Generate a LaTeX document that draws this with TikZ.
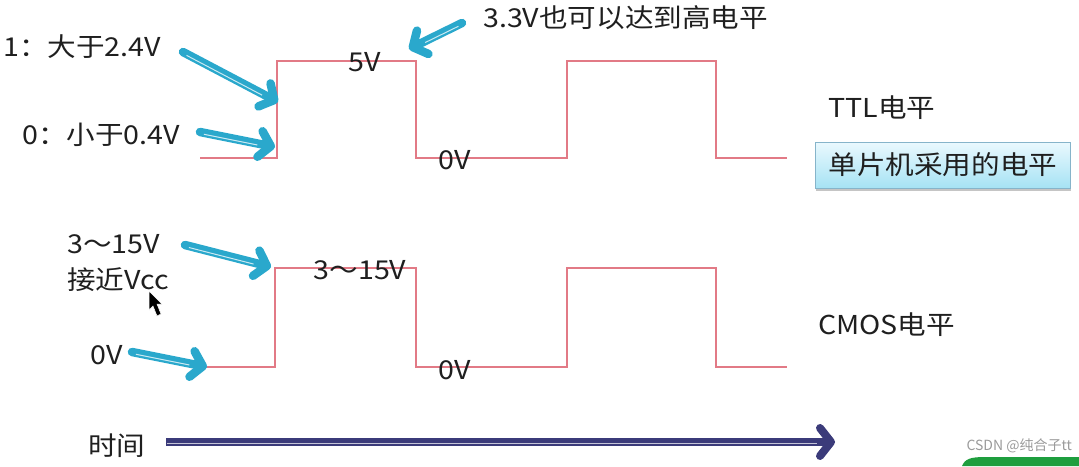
\documentclass[tikz,border=0pt]{standalone}
\usepackage{fontspec}
\setmainfont[FakeStretch=1.1]{Noto Sans CJK SC}
\newfontfamily\wmfont{Noto Sans CJK SC}
\usetikzlibrary{arrows.meta,shadows}
\definecolor{sigred}{HTML}{E27A86}
\definecolor{acyan}{HTML}{2AA8CC}
\definecolor{navy}{HTML}{3B3B7A}
\definecolor{boxtop}{HTML}{EAF9FE}
\definecolor{boxbot}{HTML}{A6E2F4}
\definecolor{boxedge}{HTML}{86B4CA}
\definecolor{wmgray}{HTML}{9A9A9A}
\definecolor{csdngreen}{HTML}{1E9E3E}
\begin{document}
\begin{tikzpicture}[x=1pt,y=-1pt,
  lbl/.style={inner sep=0pt, font=\fontsize{26}{29}\selectfont, text=black!88},
  sigline/.style={draw=sigred, line width=1.3pt, line join=miter},
  bluearrow/.style={line width=8.5pt, draw=acyan, line cap=round,
     -{Straight Barb[length=11pt,width=26pt,line cap=round,line join=round]}},
  stripe/.style={draw=white!75!acyan, line width=1pt, shorten >=18pt, shorten <=4pt,
     transform canvas={yshift=-1.5pt}},
  navyarrow/.style={line width=8pt, draw=navy,
     -{Straight Barb[length=11pt,width=28pt,line cap=round,line join=round]}},
  navystripe/.style={draw=navy!30!white, line width=1.3pt, shorten >=18pt, shorten <=1pt,
     transform canvas={yshift=-1.2pt}}
]
\useasboundingbox (0,0) rectangle (1079,466);

% ---- TTL waveform
\draw[sigline] (200,158) -- (277,158) -- (277,61) -- (416,61) -- (416,158)
  -- (567,158) -- (567,61) -- (716,61) -- (716,158) -- (787,158);
% ---- CMOS waveform
\draw[sigline] (205,367) -- (275,367) -- (275,268) -- (416,268) -- (416,367)
  -- (567,367) -- (567,268) -- (716,268) -- (716,367) -- (787,367);

% ---- labels
\node[lbl, anchor=west] (l1) at (3,47) {1：大于2.4V};
\node[lbl, anchor=west] (l0) at (22,135) {0：小于0.4V};
\node[lbl] (v5) at (365,62) {5V};
\node[lbl, anchor=west] (v33) at (483,18) {3.3V也可以达到高电平};
\node[lbl] (v0a) at (455,160) {0V};
\node[lbl, anchor=west] (ttl) at (828,108) {TTL电平};
\node[lbl, anchor=west, draw=boxedge, line width=0.8pt, top color=boxtop, bottom color=boxbot,
      inner xsep=11pt, minimum height=46pt, minimum width=255pt,
      drop shadow={shadow xshift=1pt, shadow yshift=-3pt, fill=black!45, opacity=0.5}]
      (mcu) at (815,165) {单片机采用的电平};

\node[lbl, anchor=west] (c315) at (67,244) {3～15V};
\node[lbl, anchor=west] (vcc) at (67,280) {接近Vcc};
\node[lbl] (c315b) at (360,270) {3～15V};
\node[lbl] (c0) at (107,355) {0V};
\node[lbl] (v0b) at (455,370) {0V};
\node[lbl, anchor=west] (cmos) at (818,325) {CMOS电平};
\node[lbl, anchor=west] (time) at (88,446) {时间};
\node[inner sep=0pt, anchor=east, text=wmgray, font=\wmfont\fontsize{14}{16}\selectfont] (wm) at (1072,446) {CSDN @纯合子tt};

% ---- blue pointer arrows
\coordinate (a1s) at (183,52);  \coordinate (a1e) at (278,102);
\coordinate (a2s) at (200,132); \coordinate (a2e) at (275,147);
\coordinate (a3s) at (462,23);  \coordinate (a3e) at (409,49);
\coordinate (a4s) at (185,245); \coordinate (a4e) at (271,267);
\coordinate (a5s) at (132,352); \coordinate (a5e) at (207,367);
\foreach \s/\e in {a1s/a1e,a2s/a2e,a3s/a3e,a4s/a4e,a5s/a5e}{
  \draw[bluearrow] (\s) -- (\e);
  \draw[stripe] (\s) -- (\e);
}

% ---- time axis
\coordinate (ts) at (166,442); \coordinate (te) at (835,442);
\draw[navyarrow] (ts) -- (te);
\draw[navystripe] (ts) -- (te);

% ---- mouse cursor
\filldraw[black, draw=white, line width=0.5pt] (149,291) -- (149,310) -- (153,306) -- (157,316)
  -- (161,314) -- (157,304) -- (162,304) -- cycle;

% ---- green corner shape
\fill[csdngreen] (962,466) .. controls (965,459) and (970,457) .. (985,457) -- (1079,457) -- (1079,466) -- cycle;
\end{tikzpicture}
\end{document}
